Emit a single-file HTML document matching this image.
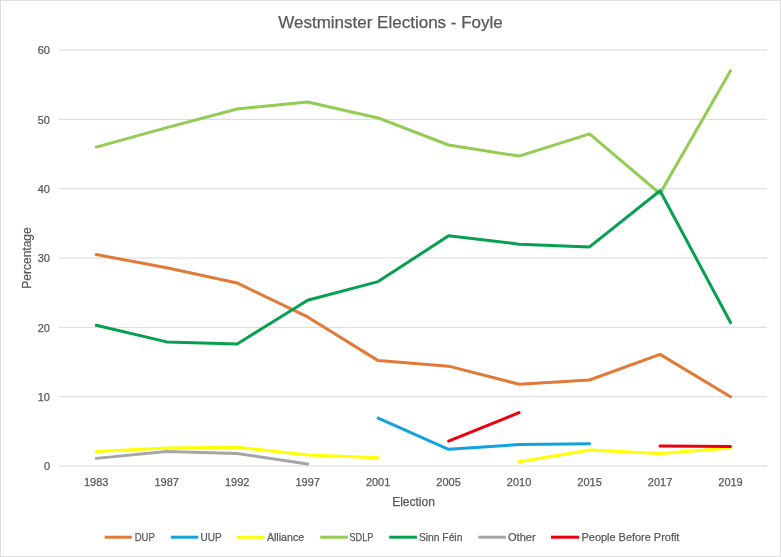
<!DOCTYPE html>
<html><head><meta charset="utf-8"><style>
html,body{margin:0;padding:0;background:#fff;}
body{width:781px;height:557px;overflow:hidden;}
svg{display:block;will-change:transform;}
text{font-family:"Liberation Sans",sans-serif;fill:#595959;stroke:#595959;stroke-width:0.25px;}
.t9{font-size:11px;}
.t10{font-size:12px;}
.title{font-size:17px;}
</style></head><body>
<svg width="781" height="557" viewBox="0 0 781 557">
<rect x="0.5" y="0.5" width="780" height="556" fill="#fff" stroke="#E0E0E0" stroke-width="1"/>
<line x1="3" y1="3.5" x2="779" y2="3.5" stroke="#F4F4F4" stroke-width="1"/>
<line x1="3.5" y1="3" x2="3.5" y2="555" stroke="#F4F4F4" stroke-width="1"/>
<line x1="59.0" y1="396.67" x2="767.0" y2="396.67" stroke="#D9D9D9" stroke-width="1"/>
<line x1="59.0" y1="327.34" x2="767.0" y2="327.34" stroke="#D9D9D9" stroke-width="1"/>
<line x1="59.0" y1="258.01" x2="767.0" y2="258.01" stroke="#D9D9D9" stroke-width="1"/>
<line x1="59.0" y1="188.68" x2="767.0" y2="188.68" stroke="#D9D9D9" stroke-width="1"/>
<line x1="59.0" y1="119.35" x2="767.0" y2="119.35" stroke="#D9D9D9" stroke-width="1"/>
<line x1="59.0" y1="50.02" x2="767.0" y2="50.02" stroke="#D9D9D9" stroke-width="1"/>
<line x1="59.0" y1="466.0" x2="767.0" y2="466.0" stroke="#D9D9D9" stroke-width="1"/>
<text x="50" y="470.20" text-anchor="end" class="t9">0</text>
<text x="50" y="400.87" text-anchor="end" class="t9">10</text>
<text x="50" y="331.54" text-anchor="end" class="t9">20</text>
<text x="50" y="262.21" text-anchor="end" class="t9">30</text>
<text x="50" y="192.88" text-anchor="end" class="t9">40</text>
<text x="50" y="123.55" text-anchor="end" class="t9">50</text>
<text x="50" y="54.22" text-anchor="end" class="t9">60</text>
<text x="96.20" y="485.5" text-anchor="middle" class="t9">1983</text>
<text x="166.68" y="485.5" text-anchor="middle" class="t9">1987</text>
<text x="237.16" y="485.5" text-anchor="middle" class="t9">1992</text>
<text x="307.64" y="485.5" text-anchor="middle" class="t9">1997</text>
<text x="378.12" y="485.5" text-anchor="middle" class="t9">2001</text>
<text x="448.60" y="485.5" text-anchor="middle" class="t9">2005</text>
<text x="519.08" y="485.5" text-anchor="middle" class="t9">2010</text>
<text x="589.56" y="485.5" text-anchor="middle" class="t9">2015</text>
<text x="660.04" y="485.5" text-anchor="middle" class="t9">2017</text>
<text x="730.52" y="485.5" text-anchor="middle" class="t9">2019</text>
<polyline points="96.20,254.54 166.68,267.72 237.16,282.97 307.64,316.94 378.12,360.62 448.60,366.16 519.08,384.19 589.56,380.03 660.04,354.38 730.52,396.67" fill="none" stroke="#E07A36" stroke-width="3" stroke-linejoin="round" stroke-linecap="round"/>
<polyline points="378.12,418.16 448.60,449.36 519.08,444.51 589.56,443.81" fill="none" stroke="#12A2E0" stroke-width="3" stroke-linejoin="round" stroke-linecap="round"/>
<polyline points="96.20,451.44 166.68,447.97 237.16,447.28 307.64,454.91 378.12,457.68" fill="none" stroke="#FFFF00" stroke-width="3" stroke-linejoin="round" stroke-linecap="round"/>
<polyline points="519.08,461.84 589.56,450.05 660.04,453.52 730.52,447.97" fill="none" stroke="#FFFF00" stroke-width="3" stroke-linejoin="round" stroke-linecap="round"/>
<polyline points="96.20,147.08 166.68,127.67 237.16,108.95 307.64,102.02 378.12,117.96 448.60,145.00 519.08,156.09 589.56,133.91 660.04,193.53 730.52,70.82" fill="none" stroke="#92CC52" stroke-width="3" stroke-linejoin="round" stroke-linecap="round"/>
<polyline points="96.20,325.26 166.68,341.90 237.16,343.98 307.64,300.30 378.12,281.58 448.60,235.82 519.08,244.14 589.56,246.92 660.04,190.76 730.52,322.49" fill="none" stroke="#07A050" stroke-width="3" stroke-linejoin="round" stroke-linecap="round"/>
<polyline points="96.20,458.37 166.68,451.44 237.16,453.52 307.64,463.92" fill="none" stroke="#A5A5A5" stroke-width="3" stroke-linejoin="round" stroke-linecap="round"/>
<polyline points="448.60,441.04 519.08,412.62" fill="none" stroke="#EC0010" stroke-width="3" stroke-linejoin="round" stroke-linecap="round"/>
<polyline points="660.04,445.89 730.52,446.59" fill="none" stroke="#EC0010" stroke-width="3" stroke-linejoin="round" stroke-linecap="round"/>
<text x="390.5" y="27.7" text-anchor="middle" class="title">Westminster Elections - Foyle</text>
<text x="413.5" y="505.8" text-anchor="middle" class="t10">Election</text>
<text transform="translate(30.5,258) rotate(-90)" text-anchor="middle" class="t10">Percentage</text>
<line x1="104.6" y1="537.2" x2="131.9" y2="537.2" stroke="#E07A36" stroke-width="3" stroke-linecap="butt"/>
<text x="134.7" y="540.5" class="t9" textLength="20.2" lengthAdjust="spacingAndGlyphs">DUP</text>
<line x1="170.8" y1="537.2" x2="198.3" y2="537.2" stroke="#12A2E0" stroke-width="3" stroke-linecap="butt"/>
<text x="200.6" y="540.5" class="t9" textLength="21.1" lengthAdjust="spacingAndGlyphs">UUP</text>
<line x1="236.8" y1="537.2" x2="264.4" y2="537.2" stroke="#FFFF00" stroke-width="3" stroke-linecap="butt"/>
<text x="266.9" y="540.5" class="t9" textLength="37.3" lengthAdjust="spacingAndGlyphs">Alliance</text>
<line x1="320.2" y1="537.2" x2="347.8" y2="537.2" stroke="#92CC52" stroke-width="3" stroke-linecap="butt"/>
<text x="349.5" y="540.5" class="t9" textLength="23.9" lengthAdjust="spacingAndGlyphs">SDLP</text>
<line x1="389.2" y1="537.2" x2="416.9" y2="537.2" stroke="#07A050" stroke-width="3" stroke-linecap="butt"/>
<text x="418.9" y="540.5" class="t9" textLength="43.5" lengthAdjust="spacingAndGlyphs">Sinn Féin</text>
<line x1="478.4" y1="537.2" x2="506.0" y2="537.2" stroke="#A5A5A5" stroke-width="3" stroke-linecap="butt"/>
<text x="508.0" y="540.5" class="t9" textLength="27.7" lengthAdjust="spacingAndGlyphs">Other</text>
<line x1="551.0" y1="537.2" x2="579.2" y2="537.2" stroke="#EC0010" stroke-width="3" stroke-linecap="butt"/>
<text x="581.5" y="540.5" class="t9" textLength="97.9" lengthAdjust="spacingAndGlyphs">People Before Profit</text>
</svg>
</body></html>
